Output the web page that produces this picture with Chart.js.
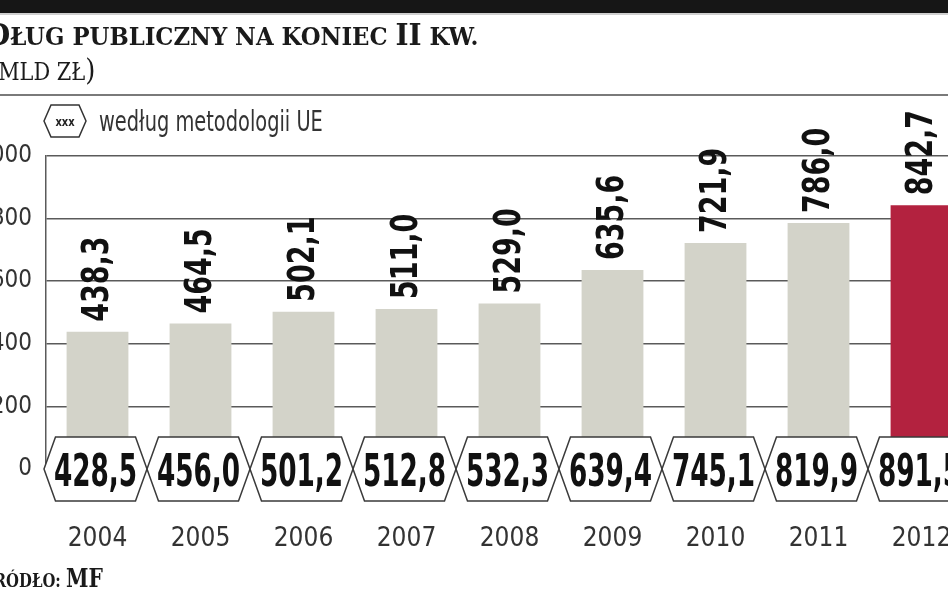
<!DOCTYPE html>
<html lang="pl">
<head>
<meta charset="utf-8">
<title>Dług publiczny na koniec II kw.</title>
<script src="https://cdn.jsdelivr.net/npm/chart.js@4.4.1/dist/chart.umd.min.js"></script>
<style>
  html, body { margin: 0; padding: 0; background: #fff; overflow: hidden; width: 948px; height: 593px; }
  #page { position: relative; width: 948px; height: 593px; overflow: hidden; }
  .topbar { position: absolute; left: 0; top: 0; width: 948px; height: 13px; background: #161616; border-bottom: 2px solid #cfcfcf; }
  .serif { position: absolute; font-family: "DejaVu Serif", serif; color: #1a1a1a; white-space: nowrap; transform-origin: 0 0; }
  .title { left: -14px; top: 17px; font-weight: bold; transform: scaleX(0.93); }
  .title .big { font-size: 30px; }
  .title .sm { font-size: 24.5px; }
  .subtitle { left: -12px; top: 52px; transform: scaleX(0.87); }
  .subtitle .big { font-size: 30px; }
  .subtitle .sm { font-size: 24px; }
  .rule { position: absolute; left: 0; top: 94px; width: 948px; height: 2px; background: #7a7a7a; }
  .legend { position: absolute; left: 43px; top: 104px; height: 34px; display: flex; align-items: center; }
  .legend span { margin-left: 12px; font: 28px "DejaVu Sans Condensed", "DejaVu Sans", sans-serif; color: #333; display: inline-block; transform: scaleX(0.77); transform-origin: 0 50%; white-space: nowrap; }
  .source { left: -21px; top: 563px; font-weight: bold; transform: scaleX(0.78); }
  .source .big { font-size: 26px; }
  .source .sm { font-size: 19px; }
  #debtChart { position: absolute; left: 0; top: 0; }
</style>
</head>
<body>
<div id="page">
<canvas id="debtChart" width="975" height="593" style="width:975px;height:593px"></canvas>
<div class="topbar"></div>
<div class="serif title"><span class="big">D</span><span class="sm">ŁUG PUBLICZNY NA KONIEC </span><span class="big">II</span><span class="sm"> KW.</span></div>
<div class="serif subtitle"><span class="big">(</span><span class="sm">MLD ZŁ</span><span class="big">)</span></div>
<div class="rule"></div>
<div class="legend">
  <svg width="44" height="34" viewBox="0 0 44 34">
    <polygon points="1,17 8,1 36,1 43,17 36,33 8,33" fill="#fff" stroke="#333" stroke-width="1.5"/>
    <text x="22" y="22" text-anchor="middle" font-family="DejaVu Sans Condensed, sans-serif" font-weight="bold" font-size="13" fill="#222" transform="translate(22 0) scale(0.85 1) translate(-22 0)">xxx</text>
  </svg>
  <span>według metodologii UE</span>
</div>
<div class="serif source"><span class="big">Ź</span><span class="sm">RÓDŁO: </span><span class="big">MF</span></div>
</div>

<script>
// dane (mld zł), stan na koniec II kwartału
const years = ['2004', '2005', '2006', '2007', '2008', '2009', '2010', '2011', '2012'];
const debtPL = [438.3, 464.5, 502.1, 511.0, 529.0, 635.6, 721.9, 786.0, 842.7];   // słupki
const debtUE = [428.5, 456.0, 501.2, 512.8, 532.3, 639.4, 745.1, 819.9, 891.5];   // w sześciokątach
const yTicks = [0, 200, 400, 600, 800, 1000];

const GREY = '#d3d3c9';
const RED = '#b3223f';
const COND = '"DejaVu Sans Condensed", "DejaVu Sans", sans-serif';

const fmt = v => v.toFixed(1).replace('.', ',');

// pionowe etykiety nad słupkami
const barLabels = {
  id: 'barLabels',
  afterDatasetsDraw(chart) {
    const ctx = chart.ctx;
    const meta = chart.getDatasetMeta(0);
    ctx.save();
    ctx.fillStyle = '#111';
    ctx.font = 'bold 37px ' + COND;
    ctx.textAlign = 'left';
    ctx.textBaseline = 'middle';
    meta.data.forEach((bar, i) => {
      ctx.save();
      ctx.translate(bar.x + 1, bar.y - 10);
      ctx.rotate(-Math.PI / 2);
      ctx.scale(0.81, 1);
      ctx.fillText(fmt(debtPL[i]), 0, 0);
      ctx.restore();
    });
    ctx.restore();
  }
};

function hexPath(ctx, cx, cy, hh, topW, tipW) {
  ctx.beginPath();
  ctx.moveTo(cx - tipW, cy);
  ctx.lineTo(cx - topW, cy - hh);
  ctx.lineTo(cx + topW, cy - hh);
  ctx.lineTo(cx + tipW, cy);
  ctx.lineTo(cx + topW, cy + hh);
  ctx.lineTo(cx - topW, cy + hh);
  ctx.closePath();
}

// sześciokąty z danymi wg metodologii UE
const hexLabels = {
  id: 'hexLabels',
  afterDraw(chart) {
    const ctx = chart.ctx;
    const xs = chart.scales.x;
    const y0 = chart.scales.y.getPixelForValue(0);
    ctx.save();
    debtUE.forEach((v, i) => {
      hexPath(ctx, xs.getPixelForValue(i) - 2, y0, 32, 40, 51.5);
      ctx.fillStyle = '#fff';
      ctx.fill();
    });
    debtUE.forEach((v, i) => {
      const cx = xs.getPixelForValue(i) - 2;
      hexPath(ctx, cx, y0, 32, 40, 51.5);
      ctx.strokeStyle = '#3a3a3a';
      ctx.lineWidth = 1.5;
      ctx.stroke();
      ctx.save();
      ctx.translate(cx, y0 + 17);
      ctx.scale(0.65, 1);
      ctx.fillStyle = '#111';
      ctx.font = 'bold 45px ' + COND;
      ctx.textAlign = 'center';
      ctx.textBaseline = 'alphabetic';
      ctx.fillText(fmt(v), 0, 0);
      ctx.restore();
    });
    ctx.restore();
  }
};

new Chart(document.getElementById('debtChart'), {
  type: 'bar',
  data: {
    labels: years,
    datasets: [{
      data: debtPL,
      backgroundColor: years.map((y, i) => i === years.length - 1 ? RED : GREY),
      borderWidth: 0,
      categoryPercentage: 1,
      barPercentage: 0.6
    }]
  },
  options: {
    responsive: false,
    animation: false,
    layout: { padding: { top: 156, right: 2, left: 0, bottom: 0 } },
    plugins: { legend: { display: false }, tooltip: { enabled: false }, title: { display: false } },
    scales: {
      x: {
        // odstęp etykiet lat od osi przez długość (niewidocznej) kreski podziałki
        grid: { drawOnChartArea: false, drawTicks: true, tickLength: 55, color: 'rgba(0,0,0,0)' },
        border: { display: false },
        ticks: { color: '#333', font: { family: COND, size: 26 }, padding: 0, maxRotation: 0 },
        afterFit: s => { s.height = 124; }
      },
      y: {
        min: 0,
        max: 1000,
        afterBuildTicks: s => { s.ticks = yTicks.map(v => ({ value: v })); },
        grid: { color: '#5a5a5a', lineWidth: 1.5, drawTicks: false },
        border: { display: true, color: '#5a5a5a', width: 1.5 },
        ticks: { color: '#333', font: { family: COND, size: 24 }, padding: 14 },
        afterFit: s => { s.width = 46; }
      }
    }
  },
  plugins: [barLabels, hexLabels]
});
</script>
</body>
</html>
